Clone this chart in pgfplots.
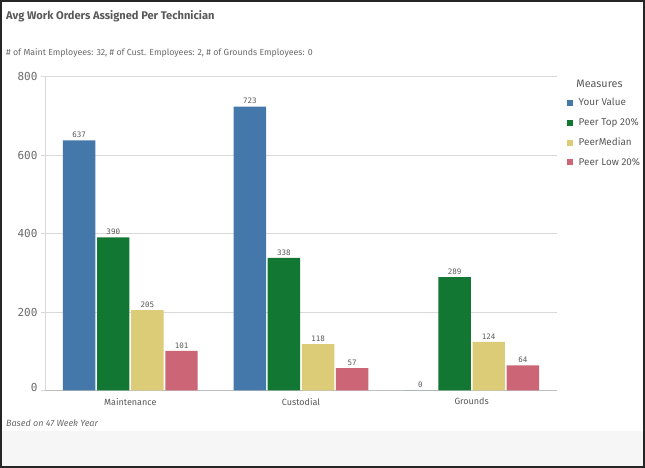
\documentclass[border=0pt]{standalone}
\usepackage{pgfplots}
\pgfplotsset{compat=1.18}
\usepackage{fontspec}
\setmainfont{Fira Sans}
\newfontfamily\monofont{DejaVu Sans Mono}
\definecolor{cblue}{HTML}{4477AA}
\definecolor{cgreen}{HTML}{117733}
\definecolor{cyellow}{HTML}{DDCC77}
\definecolor{cred}{HTML}{CC6677}
\definecolor{txt}{HTML}{595959}
\definecolor{gridc}{HTML}{D9D9D9}
\definecolor{axisc}{HTML}{BFBFBF}
\definecolor{band}{HTML}{F6F6F6}
\begin{document}
\begin{tikzpicture}[x=1pt,y=1pt]
\useasboundingbox (0,0) rectangle (645,468);
\fill[white] (0,0) rectangle (645,468);
\fill[band] (2,2) rectangle (643,37);
\begin{axis}[
  at={(45pt,77.5pt)}, anchor=south west,
  scale only axis, width=512pt, height=314pt,
  xmin=-0.5, xmax=2.5, ymin=0, ymax=800,
  axis x line*=bottom, axis y line*=left,
  x axis line style={axisc, line width=0.8pt, -},
  y axis line style={gridc, line width=0.8pt, -},
  /pgf/number format/assume math mode=true,
  ytick={0,200,400,600,800},
  ymajorgrids, grid style={gridc, line width=0.8pt},
  tick align=outside, major tick length=4pt,
  y tick style={gridc, line width=0.8pt},
  x tick style={draw=none},
  xtick={0,1,2}, xticklabels={Maintenance,Custodial,Grounds},
  yticklabel={\ifdim\tick pt=0pt\raisebox{6pt}{0}\else\pgfmathprintnumber{\tick}\fi},
  yticklabel style={font=\monofont\fontsize{11}{13}\selectfont, text=txt!90},
  xticklabel style={font=\fontsize{9}{11}\selectfont, text=txt},
  ybar, bar width=0.19,
  nodes near coords,
  nodes near coords style={font=\monofont\fontsize{7.5}{9}\selectfont, text=txt, anchor=south, inner sep=1.5pt, yshift=1pt},
  legend style={at={(1.0195,0.937)}, anchor=north west, draw=none, fill=none,
    font=\fontsize{9.9}{11}\selectfont, text=txt, row sep=7pt, inner sep=0pt,
    /tikz/every odd column/.append style={column sep=3.5pt}},
  legend cell align=left,
  legend image code/.code={\fill[#1,draw=none] (0pt,-3pt) rectangle (6pt,3pt);},
]
\addplot[fill=cblue, draw=none, bar shift=-0.3] coordinates {(0,637) (1,723) (2,0)};
\addplot[fill=cgreen, draw=none, bar shift=-0.1] coordinates {(0,390) (1,338) (2,289)};
\addplot[fill=cyellow, draw=none, bar shift=0.1] coordinates {(0,205) (1,118) (2,124)};
\addplot[fill=cred, draw=none, bar shift=0.3] coordinates {(0,101) (1,57) (2,64)};
\legend{Your Value, Peer Top 20\%, PeerMedian, Peer Low 20\%}
\end{axis}
\node[anchor=west, inner sep=0pt, font=\bfseries\fontsize{11.1}{13}\selectfont, text=txt] at (6,452) {Avg Work Orders Assigned Per Technician};
\node[anchor=west, inner sep=0pt, font=\fontsize{8.8}{10}\selectfont, text=txt!90] at (6,415) {\# of Maint Employees: 32, \# of Cust. Employees: 2, \# of Grounds Employees: 0};
\node[anchor=west, inner sep=0pt, font=\itshape\fontsize{9}{10}\selectfont, text=txt!90] at (6,45) {Based on 47 Week Year};
\node[inner sep=0pt, font=\fontsize{10.8}{12}\selectfont, text=txt] at (599.5,384) {Measures};
\draw[line width=2pt, black!85] (1,1) rectangle (644,467);
\end{tikzpicture}
\end{document}
